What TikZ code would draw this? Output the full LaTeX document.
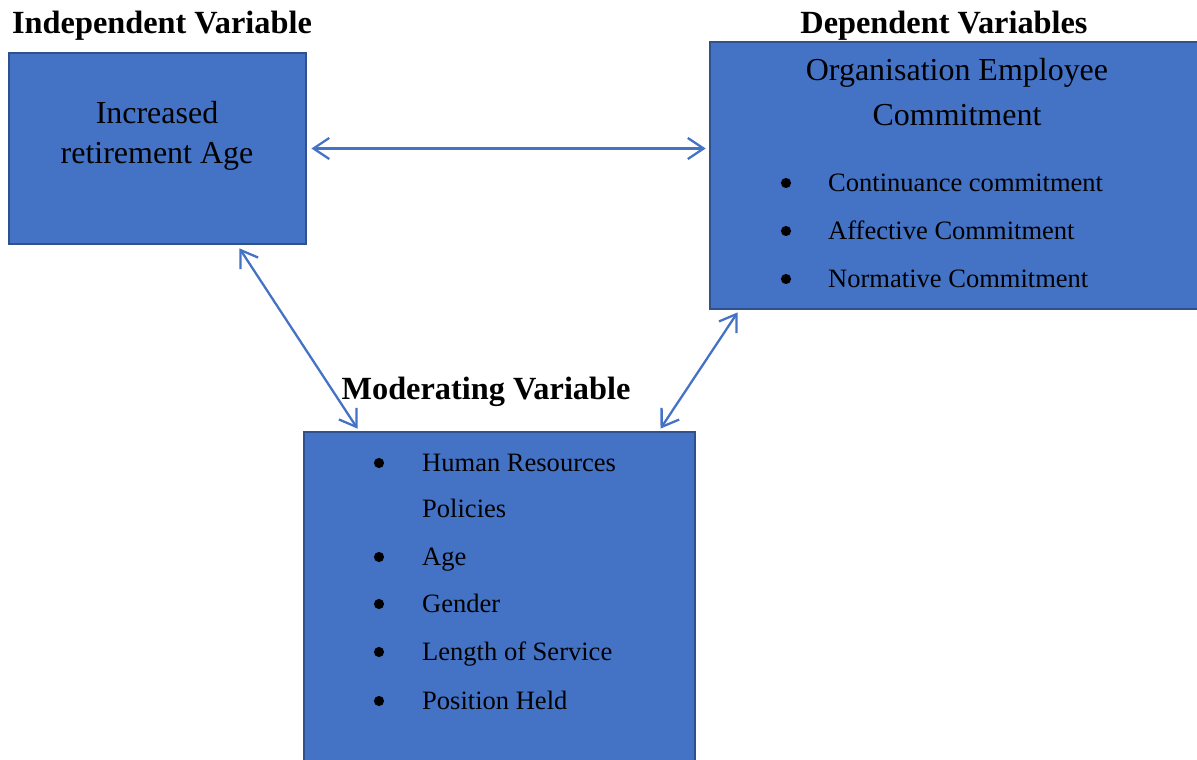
\documentclass[tikz,border=0pt]{standalone}
\usepackage{fontspec}
\setmainfont{Liberation Serif}
\usetikzlibrary{calc,arrows.meta}
\definecolor{boxblue}{HTML}{4472C4}
\definecolor{boxedge}{HTML}{2F528F}
\tikzset{
    varbox/.style={draw=boxedge, line width=1.6pt, fill=boxblue, inner sep=0pt},
    heading/.style={font=\fontsize{18.4}{22}\selectfont\bfseries},
    boxtitle/.style={font=\fontsize{18.2}{22}\selectfont},
    item/.style={font=\fontsize{15.1}{18}\selectfont, anchor=west, text height=1.6ex, text depth=0.2ex, yshift=-1.8pt},
    dot/.style={circle, fill=black, inner sep=0pt, minimum size=5.8pt},
    link/.style={draw=boxblue, line width=1.3pt, {Straight Barb[length=9pt,width=12pt]}-{Straight Barb[length=9pt,width=12pt]}}
}
\begin{document}
\begin{tikzpicture}[x=0.02cm, y=-0.02cm]
    \useasboundingbox (0,0) rectangle (1197,760);

    % boxes
    \node[varbox, minimum width=5.94cm, minimum height=3.82cm] (indep) at (157.5,148.5) {};
    \node[varbox, minimum width=9.8cm, minimum height=5.34cm] (dep) at (955,175.5) {};
    \node[varbox, minimum width=7.82cm, minimum height=6.96cm] (mod) at (499.5,606) {};

    % headings
    \node[heading] (indephead) at (162,26) {Independent Variable};
    \node[heading] (dephead) at (944,26) {Dependent Variables};
    \node[heading] (modhead) at (486,392) {Moderating Variable};

    % independent variable
    \node[boxtitle] (incr) at (157,113) {Increased};
    \node[boxtitle] (retage) at (157,156) {retirement Age};

    % dependent variables
    \node[boxtitle] (org) at (957,73) {Organisation Employee};
    \node[boxtitle] (commit) at (957,115) {Commitment};
    \node[dot] (d1) at (786,183) {};
    \node[item] (cont) at (822,183) {Continuance commitment};
    \node[dot] (d2) at (786,231) {};
    \node[item] (aff) at (822,231) {Affective Commitment};
    \node[dot] (d3) at (786,279) {};
    \node[item] (norm) at (822,279) {Normative Commitment};

    % moderating variable
    \node[dot] (m1) at (379,463) {};
    \node[item] (hr) at (416,463) {Human Resources};
    \node[item] (pol) at (416,509) {Policies};
    \node[dot] (m2) at (379,557) {};
    \node[item] (age) at (416,557) {Age};
    \node[dot] (m3) at (379,604) {};
    \node[item] (gen) at (416,604) {Gender};
    \node[dot] (m4) at (379,652) {};
    \node[item] (serv) at (416,652) {Length of Service};
    \node[dot] (m5) at (379,701) {};
    \node[item] (pos) at (416,701) {Position Held};

    % links
    \draw[link] ($(indep.east)+(4,0)$) -- ($(indep.east -| dep.west)+(-3,0)$);
    \draw[link] ($(indep.south)+(82,3)$) -- ($(mod.north)+(-142,-2)$);
    \draw[link] ($(dep.south west)+(29,2)$) -- ($(mod.north)+(161,-2)$);

\end{tikzpicture}
\end{document}
